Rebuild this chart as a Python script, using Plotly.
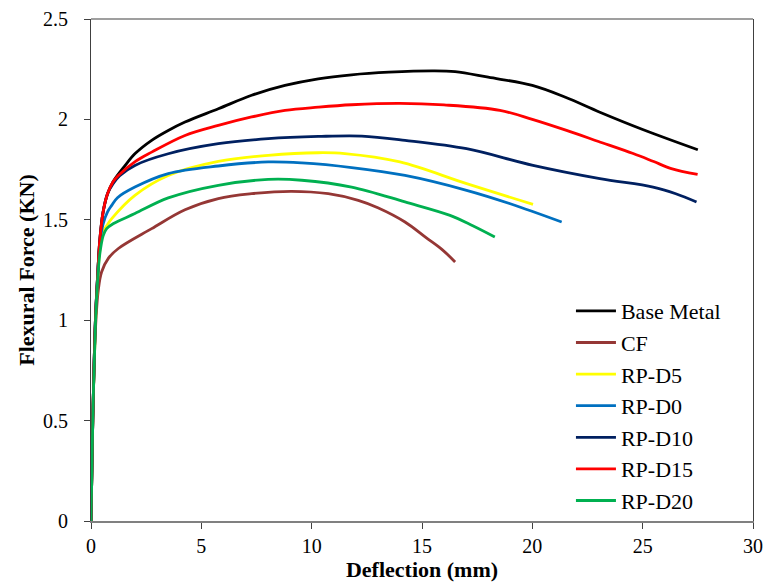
import plotly.graph_objects as go

series_names = ["Base Metal", "CF", "RP-D5", "RP-D0", "RP-D10", "RP-D15", "RP-D20"]
series_colors = ["#000000", "#953735", "#FFFF00", "#0070C0", "#002060", "#FF0000", "#00B050"]

base_x = [0, 0.08, 0.2, 0.3, 0.4, 0.55, 0.75, 1.0, 1.54, 2.0, 2.75, 3.5, 4.26, 5.77, 7.28, 8.79, 10.3, 11.81, 13.5, 15.5, 16.5, 18.0, 20.0, 21.5, 23.06, 25.0, 27.5]
base_y = [0, 0.5, 1.0, 1.22, 1.4, 1.54, 1.63, 1.69, 1.77, 1.83, 1.896, 1.945, 1.987, 2.053, 2.12, 2.169, 2.202, 2.222, 2.235, 2.242, 2.238, 2.21, 2.169, 2.11, 2.036, 1.95, 1.849]

cf_x = [0, 0.08, 0.2, 0.33, 0.48, 0.8, 1.24, 2.75, 4.26, 5.77, 7.28, 9.09, 10.75, 12.11, 13.0, 14.23, 15.2, 15.9, 16.5]
cf_y = [0, 0.5, 0.95, 1.15, 1.24, 1.31, 1.357, 1.456, 1.55, 1.606, 1.63, 1.642, 1.63, 1.597, 1.56, 1.489, 1.41, 1.353, 1.29]

d5_x = [0, 0.08, 0.2, 0.3, 0.4, 0.55, 0.71, 0.94, 1.99, 3.5, 5.77, 8.03, 10.3, 11.5, 14.0, 17.02, 20.03]
d5_y = [0, 0.5, 0.98, 1.2, 1.35, 1.44, 1.47, 1.506, 1.622, 1.721, 1.791, 1.821, 1.834, 1.83, 1.788, 1.68, 1.577]

d0_x = [0, 0.08, 0.2, 0.3, 0.4, 0.55, 0.75, 0.94, 1.2, 1.99, 3.5, 5.77, 8.03, 9.55, 11.81, 14.23, 17.02, 19.0, 21.33]
d0_y = [0, 0.5, 1.0, 1.22, 1.38, 1.48, 1.54, 1.572, 1.61, 1.663, 1.73, 1.768, 1.788, 1.783, 1.76, 1.721, 1.647, 1.58, 1.489]

d10_x = [0, 0.08, 0.2, 0.3, 0.4, 0.55, 0.75, 1.0, 1.3, 1.99, 3.5, 5.77, 8.03, 10.3, 12.27, 14.23, 17.02, 20.03, 23.06, 25.47, 26.5, 27.44]
d10_y = [0, 0.5, 1.0, 1.22, 1.4, 1.54, 1.63, 1.68, 1.72, 1.771, 1.829, 1.879, 1.904, 1.915, 1.917, 1.896, 1.854, 1.771, 1.705, 1.663, 1.63, 1.589]

d15_x = [0, 0.08, 0.2, 0.3, 0.4, 0.55, 0.75, 1.0, 1.24, 2.0, 2.75, 4.26, 5.77, 7.28, 8.79, 10.3, 11.81, 14.0, 16.0, 18.53, 20.0, 21.55, 23.0, 24.57, 25.5, 26.3, 27.49]
d15_y = [0, 0.5, 1.0, 1.22, 1.4, 1.54, 1.63, 1.69, 1.721, 1.79, 1.837, 1.92, 1.97, 2.012, 2.045, 2.061, 2.073, 2.08, 2.072, 2.045, 2.0, 1.945, 1.89, 1.83, 1.79, 1.755, 1.726]

d20_x = [0, 0.08, 0.2, 0.3, 0.4, 0.55, 0.71, 1.0, 1.99, 3.5, 5.77, 8.03, 9.55, 11.81, 14.23, 16.27, 17.3, 18.3]
d20_y = [0, 0.5, 0.98, 1.2, 1.33, 1.42, 1.456, 1.48, 1.531, 1.609, 1.672, 1.701, 1.697, 1.663, 1.589, 1.522, 1.47, 1.414]

xs = [base_x, cf_x, d5_x, d0_x, d10_x, d15_x, d20_x]
ys = [base_y, cf_y, d5_y, d0_y, d10_y, d15_y, d20_y]

FONT = "Times New Roman, Liberation Serif, serif"

fig = go.Figure()
for name, color, x, y in zip(series_names, series_colors, xs, ys):
    fig.add_trace(go.Scatter(
        x=x, y=y, mode="lines", name=name,
        line=dict(color=color, width=2.8, shape="spline", smoothing=1.0),
    ))

fig.update_layout(
    width=765, height=582,
    margin=dict(l=91, r=12, t=19, b=61),
    paper_bgcolor="white", plot_bgcolor="white",
    font=dict(family=FONT, size=20, color="black"),
    showlegend=True,
    legend=dict(
        x=0.725, y=0.46, xanchor="left", yanchor="top",
        font=dict(family=FONT, size=22, color="black"),
        bgcolor="rgba(0,0,0,0)", tracegroupgap=0, itemwidth=40,
    ),
    xaxis=dict(
        range=[0, 30], tickmode="linear", tick0=0, dtick=5,
        showgrid=False, zeroline=False, automargin=False,
        showline=True, linecolor="#808080", linewidth=1.5,
        ticks="outside", ticklen=6, tickcolor="#404040", tickwidth=1,
        tickfont=dict(family=FONT, size=20, color="black"),
        title=dict(text="<b>Deflection (mm)</b>", font=dict(family=FONT, size=22, color="black"), standoff=6),
    ),
    yaxis=dict(
        range=[0, 2.5], tickmode="linear", tick0=0, dtick=0.5,
        showgrid=False, zeroline=False, automargin=False,
        showline=True, linecolor="#404040", linewidth=1.2, mirror=True,
        ticks="outside", ticklen=6, tickcolor="#404040", tickwidth=1,
        ticklabelstandoff=12,
        tickfont=dict(family=FONT, size=20, color="black"),
        title=dict(text="<b>Flexural Force (KN)</b>", font=dict(family=FONT, size=22, color="black"), standoff=2),
    ),
    shapes=[dict(type="line", xref="paper", yref="paper", x0=0, x1=1, y0=1, y1=1,
                 line=dict(color="#404040", width=1.2))],
)

fig.write_html("out.html", config={"displayModeBar": False})

# remove the default browser body margin so the figure fills the window exactly
with open("out.html", "r", encoding="utf-8") as f:
    html = f.read()
html = html.replace("<body>", '<body style="margin:0;padding:0;overflow:hidden">', 1)
with open("out.html", "w", encoding="utf-8") as f:
    f.write(html)
